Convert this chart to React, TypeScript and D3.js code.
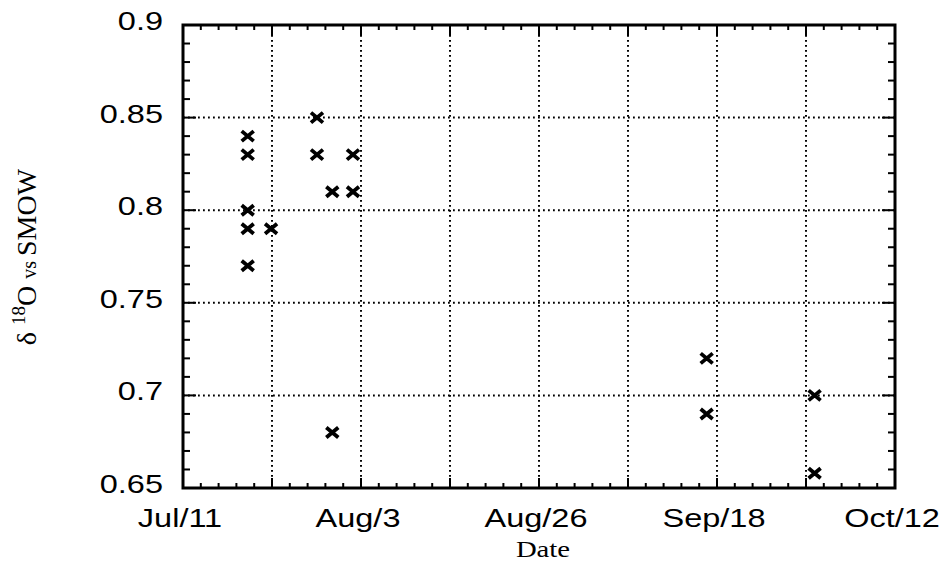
import React from "react";
import * as d3 from "d3";

const X_START = 192; // Jul/11 as day of year
const X_END = 285; // Oct/12
const xTickLabels = ["Jul/11", "", "Aug/3", "", "Aug/26", "", "Sep/18", "", "Oct/12"];
const yTicks = [0.65, 0.7, 0.75, 0.8, 0.85, 0.9];
const yTickLabels = ["0.65", "0.7", "0.75", "0.8", "0.85", "0.9"];

const sampleDays = [200.45, 200.45, 200.45, 200.45, 200.45, 203.5, 209.5, 209.5, 211.5, 211.5, 214.2, 214.2, 260.4, 260.4, 274.5, 274.5];
const sampleValues = [0.84, 0.83, 0.80, 0.79, 0.77, 0.79, 0.85, 0.83, 0.81, 0.68, 0.83, 0.81, 0.72, 0.69, 0.70, 0.658];

const W = 941, H = 564;
const L = 183, R = 895, T = 25, B = 488;
const SX = 1.25;

export default function App() {
  const x = d3.scaleLinear().domain([X_START, X_END]).range([L, R]);
  const y = d3.scaleLinear().domain([0.65, 0.9]).range([B, T]);
  const xMajor = d3.range(9).map((i) => X_START + (i * (X_END - X_START)) / 8);
  const xMinor = d3.range(41).map((i) => X_START + (i * (X_END - X_START)) / 40).filter((_, i) => i % 5 !== 0);
  const yMinor = d3.range(26).map((i) => 0.65 + i * 0.01).filter((_, i) => i % 5 !== 0);
  const tickW = 2;
  const grid = { stroke: "#000", strokeWidth: 2, strokeDasharray: "1.8,3.2" };
  const font = "'Liberation Sans', Arial, sans-serif";
  const serif = "'Liberation Serif', 'Times New Roman', serif";

  return (
    <svg width={W} height={H} style={{ position: "absolute", left: 0, top: 0, background: "#fff" }}>
      {/* grid */}
      {xMajor.slice(1, -1).map((d, i) => (
        <line key={"gx" + i} x1={x(d)} x2={x(d)} y1={T} y2={B} {...grid} />
      ))}
      {yTicks.slice(1, -1).map((d, i) => (
        <line key={"gy" + i} x1={L} x2={R} y1={y(d)} y2={y(d)} {...grid} />
      ))}
      {/* ticks */}
      {xMajor.map((d, i) => (
        <g key={"xM" + i} stroke="#000" strokeWidth={tickW}>
          <line x1={x(d)} x2={x(d)} y1={B} y2={B - 10} />
          <line x1={x(d)} x2={x(d)} y1={T} y2={T + 10} />
        </g>
      ))}
      {xMinor.map((d, i) => (
        <g key={"xm" + i} stroke="#000" strokeWidth={tickW}>
          <line x1={x(d)} x2={x(d)} y1={B} y2={B - 5} />
          <line x1={x(d)} x2={x(d)} y1={T} y2={T + 5} />
        </g>
      ))}
      {yTicks.map((d, i) => (
        <g key={"yM" + i} stroke="#000" strokeWidth={tickW}>
          <line x1={L} x2={L + 13} y1={y(d)} y2={y(d)} />
          <line x1={R} x2={R - 13} y1={y(d)} y2={y(d)} />
        </g>
      ))}
      {yMinor.map((d, i) => (
        <g key={"ym" + i} stroke="#000" strokeWidth={tickW}>
          <line x1={L} x2={L + 7} y1={y(d)} y2={y(d)} />
          <line x1={R} x2={R - 7} y1={y(d)} y2={y(d)} />
        </g>
      ))}
      {/* frame */}
      <rect x={L} y={T} width={R - L} height={B - T} fill="none" stroke="#000" strokeWidth={3} />
      {/* markers */}
      {sampleDays.map((d, i) => {
        const cx = x(d), cy = y(sampleValues[i]);
        return (
          <path
            key={"p" + i}
            d={`M${cx - 6},${cy - 5}L${cx + 6},${cy + 5}M${cx - 6},${cy + 5}L${cx + 6},${cy - 5}`}
            stroke="#000"
            strokeWidth={3.8}
            fill="none"
          />
        );
      })}
      {/* y tick labels */}
      {yTicks.map((d, i) => (
        <text
          key={"yl" + i}
          transform={`translate(${L - 20},${y(d) + 5}) scale(${SX},1)`}
          textAnchor="end"
          fontFamily={font}
          fontSize={26}
        >
          {yTickLabels[i]}
        </text>
      ))}
      {/* x tick labels */}
      {xMajor.map((d, i) =>
        xTickLabels[i] ? (
          <text
            key={"xl" + i}
            transform={`translate(${x(d) - 3},${B + 39}) scale(${SX},1)`}
            textAnchor="middle"
            fontFamily={font}
            fontSize={26}
          >
            {xTickLabels[i]}
          </text>
        ) : null
      )}
      {/* axis titles */}
      <text transform={`translate(543,557) scale(${SX},1)`} textAnchor="middle" fontFamily={serif} fontSize={23}>
        Date
      </text>
      <text transform={`translate(36,257) rotate(-90)`} textAnchor="middle" fontFamily={serif} fontSize={28}>
        <tspan>δ </tspan>
        <tspan fontSize={19} dy={-11}>18</tspan>
        <tspan dy={11}>O </tspan>
        <tspan fontSize={20}>vs </tspan>
        <tspan>SMOW</tspan>
      </text>
    </svg>
  );
}
